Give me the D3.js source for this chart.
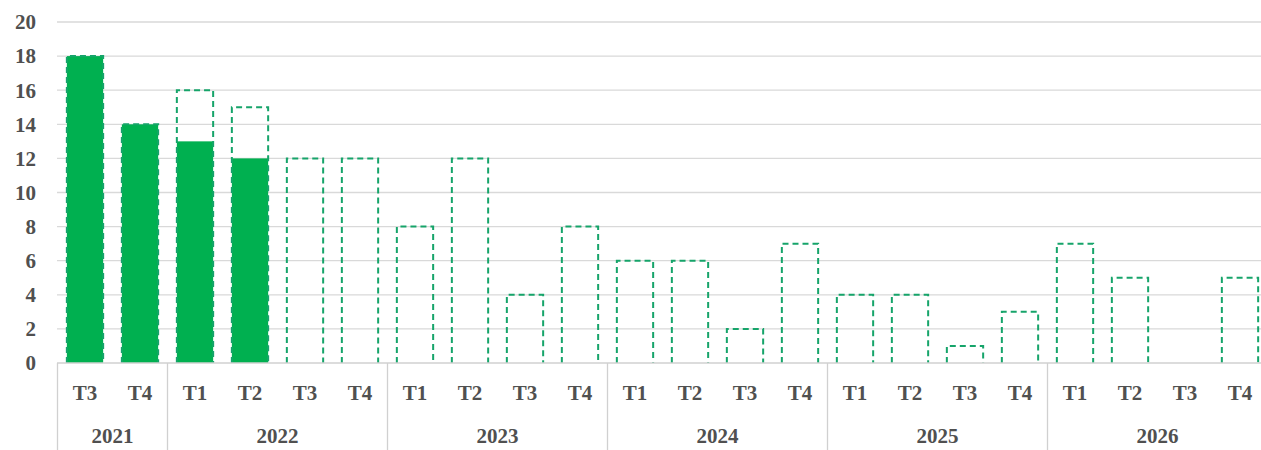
<!DOCTYPE html>
<html><head><meta charset="utf-8">
<script src="https://cdn.jsdelivr.net/npm/d3@7"></script>
<style>body{margin:0;background:#fff}svg{display:block}</style>
</head><body>
<script>
const years = ["2021","2022","2023","2024","2025","2026"];
const quarters = ["T3","T4","T1","T2","T3","T4","T1","T2","T3","T4","T1","T2","T3","T4","T1","T2","T3","T4","T1","T2","T3","T4"];
const quarterYear = ["2021","2021","2022","2022","2022","2022","2023","2023","2023","2023","2024","2024","2024","2024","2025","2025","2025","2025","2026","2026","2026","2026"];
const actual = [18,14,13,12,null,null,null,null,null,null,null,null,null,null,null,null,null,null,null,null,null,null];
const forecast = [18,14,16,15,12,12,8,12,4,8,6,6,2,7,4,4,1,3,7,5,0,5];
const yTicks = [0,2,4,6,8,10,12,14,16,18,20];

const W=1261,H=450;
const svg=d3.select("body").append("svg").attr("width",W).attr("height",H);
const idx=d3.range(quarters.length);
const x=d3.scaleBand().domain(idx).range([57.5,1267.5]).paddingInner(0.34).paddingOuter(0.17);
const y=d3.scaleLinear().domain([0,20]).range([363,22]);
const font="'Liberation Serif','Times New Roman',serif";
const txt="#505050";
const fs=21;

// gridlines
svg.append("g").selectAll("line").data(yTicks.filter(d=>d>0)).join("line")
 .attr("x1",57).attr("x2",W).attr("y1",d=>y(d)).attr("y2",d=>y(d))
 .attr("stroke","#d9d9d9").attr("stroke-width",1.3);
// y tick labels
svg.append("g").selectAll("text").data(yTicks).join("text")
 .attr("x",36).attr("y",d=>y(d)).attr("dy","0.35em").attr("text-anchor","end")
 .attr("font-family",font).attr("font-weight","bold").attr("font-size",fs).attr("fill",txt)
 .text(d=>d);

// actual bars
const green="#00b050", dash="#16a46a";
svg.append("g").selectAll("rect").data(idx.filter(i=>actual[i]!=null)).join("rect")
 .attr("x",i=>x(i)).attr("width",x.bandwidth()).attr("y",i=>y(actual[i])).attr("height",i=>y(0)-y(actual[i]))
 .attr("fill",green);
// forecast dashed outlines
svg.append("g").selectAll("path").data(idx.filter(i=>forecast[i]>0)).join("path")
 .attr("d",i=>{const x0=x(i),x1=x(i)+x.bandwidth(),yt=y(forecast[i]),yb=y(0);return `M${x0},${yb}V${yt}H${x1}V${yb}`;})
 .attr("fill","none").attr("stroke",dash).attr("stroke-width",2).attr("stroke-dasharray","6,4");

// x axis line
svg.append("line").attr("x1",57).attr("x2",W).attr("y1",y(0)).attr("y2",y(0)).attr("stroke","#d0d0d0").attr("stroke-width",1.3);

// quarter labels
svg.append("g").selectAll("text").data(idx).join("text")
 .attr("x",i=>x(i)+x.bandwidth()/2).attr("y",393).attr("dy","0.35em").attr("text-anchor","middle")
 .attr("font-family",font).attr("font-weight","bold").attr("font-size",fs).attr("fill",txt)
 .text(i=>quarters[i]);

// year group separators and labels
const step=x.step();
const groups=years.map(yr=>{const ids=idx.filter(i=>quarterYear[i]===yr);return {yr,start:57.5+ids[0]*step,end:57.5+(ids[ids.length-1]+1)*step};});
svg.append("g").selectAll("line").data(groups).join("line")
 .attr("x1",d=>d.start).attr("x2",d=>d.start).attr("y1",y(0)).attr("y2",H)
 .attr("stroke","#d0d0d0").attr("stroke-width",1.3);
svg.append("g").selectAll("text").data(groups).join("text")
 .attr("x",d=>(d.start+d.end)/2).attr("y",436).attr("dy","0.35em").attr("text-anchor","middle")
 .attr("font-family",font).attr("font-weight","bold").attr("font-size",fs).attr("fill",txt)
 .text(d=>d.yr);
</script>
</body></html>
